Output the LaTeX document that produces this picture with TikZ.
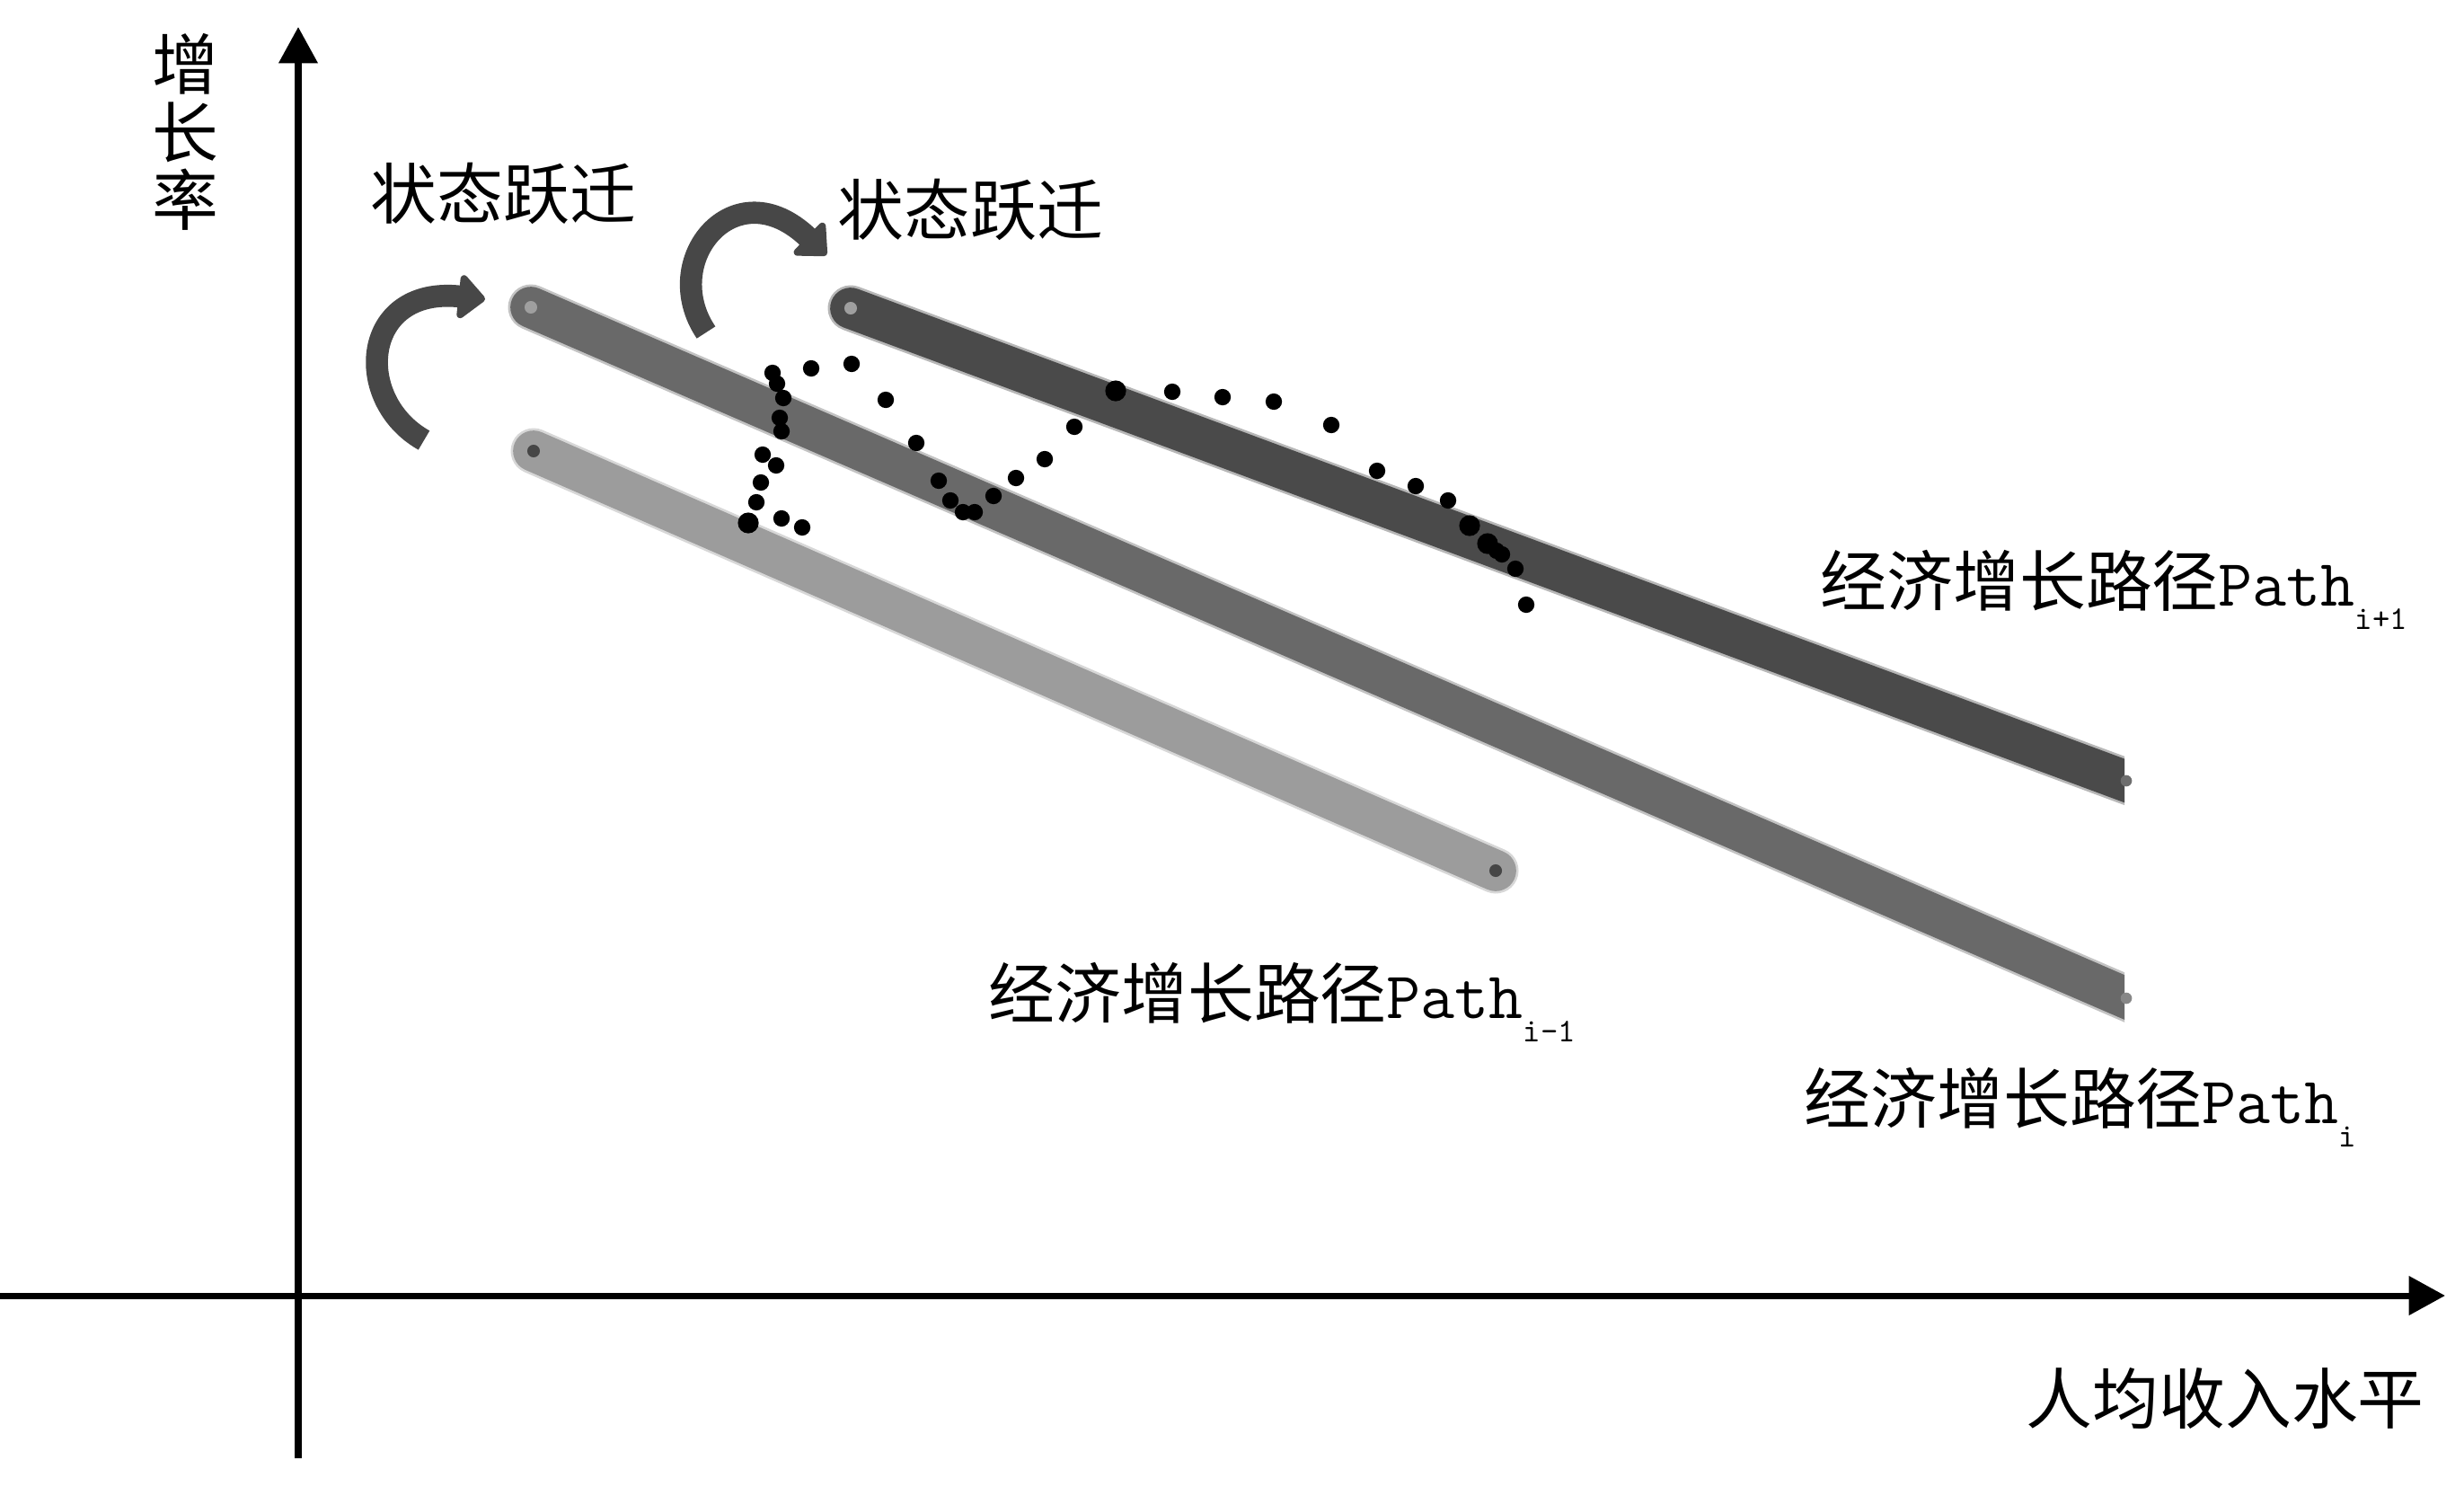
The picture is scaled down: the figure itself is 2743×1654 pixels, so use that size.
\documentclass[tikz,border=0pt]{standalone}
\usepackage{fontspec}
\newfontfamily\cjk{Noto Sans CJK SC}
\usetikzlibrary{arrows.meta}
\definecolor{barA}{HTML}{4A4A4A}
\definecolor{barB}{HTML}{696969}
\definecolor{barC}{HTML}{9C9C9C}
\definecolor{arrc}{HTML}{474747}
\tikzset{
 axisline/.style={line width=2pt, -{Triangle[length=11.5pt,width=12pt]}},
 lab/.style={font=\cjk\fontsize{21pt}{21.5pt}\selectfont, inner sep=0pt, text=black},
 barline/.style={line width=13pt, line cap=round},
 barblur/.style={line width=14.5pt, line cap=round, opacity=0.4},
 jump/.style={draw=arrc, line width=7pt, -{Triangle[length=9pt,width=16pt,round]}},
}
\newcommand{\Sub}[1]{\raisebox{-7.5pt}{\fontsize{10.5pt}{12pt}\selectfont\ttfamily #1}}
\begin{document}
\begin{tikzpicture}[x=0.01cm,y=-0.01cm]
\useasboundingbox (0,0) rectangle (2743,1654);
% axes
\coordinate (o) at (332,1442);
\coordinate (xend) at (2722,1442);
\coordinate (xstart) at (0,1442);
\coordinate (yend) at (332,30);
\coordinate (ystart) at (332,1623);
\draw[axisline] (xstart) -- (xend);
\draw[axisline] (ystart) -- (yend);
% axis labels
\node[lab, align=center] (ylab) at (206,147) {增\\长\\率};
\node[lab, anchor=west] (xlab) at (2255,1556) {人均收入水平};
% light bar (Path i-1)
\coordinate (c1) at (594,502);
\coordinate (c2) at (1665,969);
\draw[barblur, barC] (c1) -- (c2);
\draw[barline, barC] (c1) -- (c2);
\fill[gray!55!black] (c1) circle[radius=2pt];
\fill[gray!55!black] (c2) circle[radius=2pt];
% middle and top bars, cut vertically at right
\coordinate (b1) at (591,342);
\coordinate (b2) at (2402,1126);
\coordinate (a1) at (947,343);
\coordinate (a2) at (2403,883);
\begin{scope}
\clip (0,0) rectangle (2365,1654);
\draw[barblur, barB] (b1) -- (b2);
\draw[barline, barB] (b1) -- (b2);
\draw[barblur, barA] (a1) -- (a2);
\draw[barline, barA] (a1) -- (a2);
\end{scope}
\fill[gray!75] (b1) circle[radius=2pt];
\fill[gray!75] (a1) circle[radius=2pt];
\fill[barB!80!white] (2367,1111) circle[radius=1.8pt];
\fill[barA!80!white] (2367,869) circle[radius=1.8pt];
% state transition arrows
\coordinate (j1s) at (472,490);
\coordinate (j1e) at (540,333);
\coordinate (j2s) at (786,370);
\coordinate (j2e) at (920,284);
\draw[jump] (j1s) .. controls (392,445) and (402,318) .. (j1e);
\draw[jump] (j2s) .. controls (732,290) and (818,186) .. (j2e);
\node[lab, anchor=west] (st1) at (412,215) {状态跃迁};
\node[lab, anchor=west] (st2) at (932,233) {状态跃迁};
% path labels
\node[lab, anchor=base west] (p1) at (2026,674) {经济增长路径{\ttfamily Path}\Sub{i+1}};
\node[lab, anchor=base west] (p2) at (2008,1250) {经济增长路径{\ttfamily Path}\Sub{i}};
\node[lab, anchor=base west] (p3) at (1100,1133) {经济增长路径{\ttfamily Path}\Sub{i-1}};
% dots
\foreach \x/\y in {903/410,948/405,872/443,986/445,849/506,864/518,847/537,842/559,870/577,893/587,1020/493,1045/535,1058/557,1106/552,1131/532,1163/511,1196/475,1305/436,1361/442,1418/447,1482/473,1533/524,1576/541,1612/557,1672/617,1687/633,1699/673,860/415,865/427,868/465,870/480,1072/570,1085/570,1666/613}
  \fill[black] (\x,\y) circle[radius=2.6pt];
\foreach \x/\y in {833/582,1242/435,1636/585,1656/605}
  \fill[black] (\x,\y) circle[radius=3.3pt];
\end{tikzpicture}
\end{document}
